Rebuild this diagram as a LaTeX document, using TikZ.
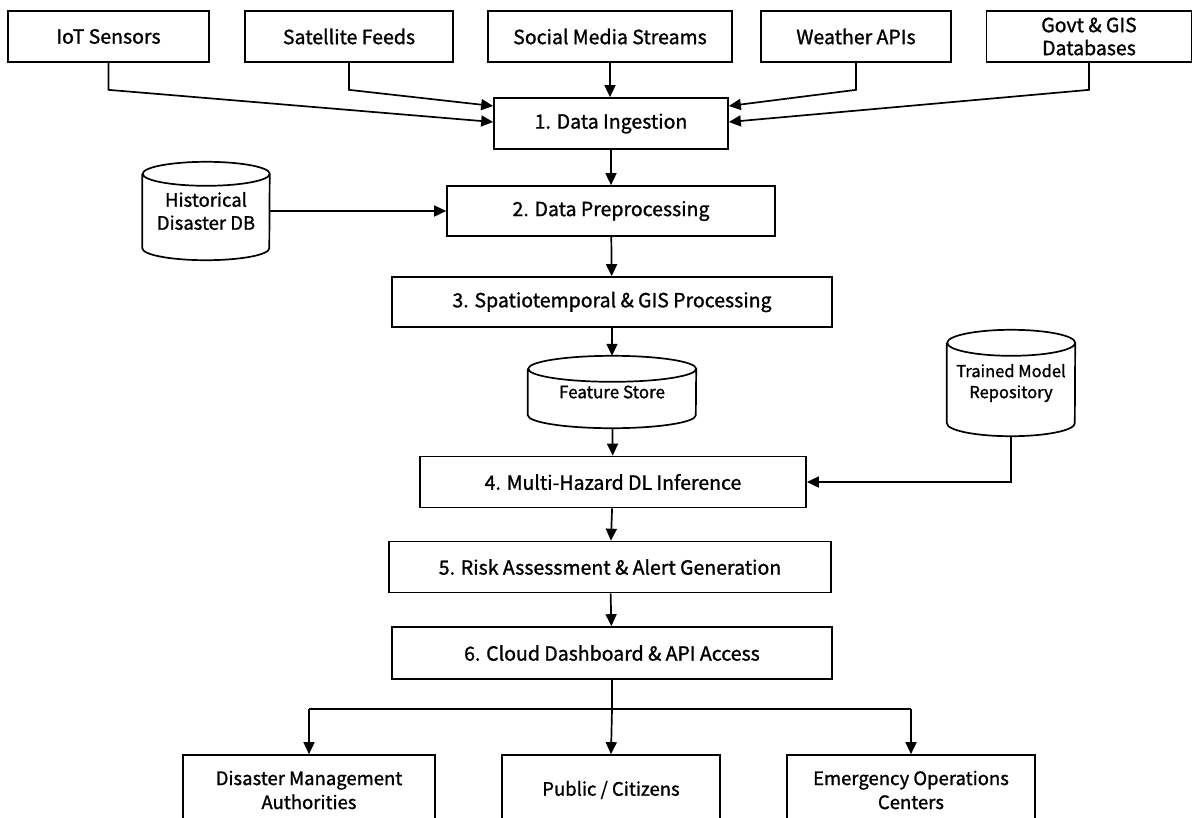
\documentclass[tikz,border=0pt]{standalone}
\usepackage{fontspec}
\setmainfont{Noto Sans CJK JP}[RawFeature={embolden=1.2}]
\usetikzlibrary{arrows.meta,positioning}
\tikzset{
  x=1pt, y=-1pt,
  stage/.style={draw, line width=1.7pt, align=center, font=\fontsize{19.5}{23}\selectfont, inner sep=0pt},
  dbnode/.style={align=center, inner sep=0pt},
  arr/.style={line width=1.7pt, -{Triangle[length=12pt,width=11pt]}},
  link/.style={line width=1.7pt},
}
% database cylinder drawn round a named node: name, half width, ellipse radius
\newcommand\dbcyl[3]{%
  \draw[line width=1.7pt] ([yshift=-#3]#1.north west) -- ([yshift=#3]#1.south west)
    arc[start angle=180,end angle=360,x radius=#2,y radius=#3]
    -- ([yshift=-#3]#1.north east)
    arc[start angle=0,end angle=360,x radius=#2,y radius=#3];}
\begin{document}
\begin{tikzpicture}
\useasboundingbox (0,0) rectangle (1193,817);
\fill[white] (0,0) rectangle (1193,817);

% data sources
\node[stage, minimum width=201, minimum height=51] (iot) at (108.5,36.5) {IoT Sensors};
\node[stage, minimum width=208, minimum height=51] (sat) at (349,36.5) {Satellite Feeds};
\node[stage, minimum width=244, minimum height=51] (soc) at (610,36.5) {Social Media Streams};
\node[stage, minimum width=190, minimum height=51] (wea) at (856,36.5) {Weather APIs};
\node[stage, minimum width=205, minimum height=51] (gov) at (1089,36.5) {Govt \& GIS\\Databases};

% pipeline stages
\node[stage, minimum width=234, minimum height=51] (ing) at (611,123.5) {1. Data Ingestion};
\node[stage, minimum width=328, minimum height=50] (pre) at (611,211) {2. Data Preprocessing};
\node[stage, minimum width=440, minimum height=50] (gis) at (612,302) {3. Spatiotemporal \& GIS Processing};
\node[stage, minimum width=386, minimum height=51] (inf) at (613,482) {4. Multi-Hazard DL Inference};
\node[stage, minimum width=442, minimum height=51] (risk) at (610,567) {5. Risk Assessment \& Alert Generation};
\node[stage, minimum width=440, minimum height=52] (dash) at (612,653) {6. Cloud Dashboard \& API Access};

% stores
\node[dbnode, minimum width=127, minimum height=98, font=\fontsize{18.5}{23}\selectfont] (hist) at (206,211) {Historical\\Disaster DB};
\dbcyl{hist}{63.5pt}{12pt}
\node[dbnode, minimum width=168, minimum height=72, font=\fontsize{17}{21}\selectfont] (feat) at (612,392) {Feature Store};
\dbcyl{feat}{84pt}{13pt}
\node[dbnode, minimum width=128, minimum height=106, font=\fontsize{16.5}{21}\selectfont] (tmr) at (1011,383) {Trained Model\\Repository};
\dbcyl{tmr}{64pt}{13pt}

% consumers
\node[stage, minimum width=252, minimum height=70, font=\fontsize{18.5}{24}\selectfont] (dma) at (309,790) {Disaster Management\\Authorities};
\node[stage, minimum width=218, minimum height=70, font=\fontsize{18.5}{24}\selectfont] (pub) at (611,790) {Public / Citizens};
\node[stage, minimum width=248, minimum height=70, font=\fontsize{18.5}{24}\selectfont] (eoc) at (911,790) {Emergency Operations\\Centers};

% source connectors
\draw[arr] (iot.south) -- ++(0,27) -- ([yshift=1.5pt]ing.west);
\draw[arr] (sat.south) -- ++(0,27) -- ([yshift=17.5pt]ing.west);
\draw[arr] (soc.south) -- (soc.south |- ing.north);
\draw[arr] (wea.south) -- ++(0,27) -- ([yshift=17.5pt]ing.east);
\draw[arr] (gov.south) -- ++(0,27) -- ([yshift=1.5pt]ing.east);

% main flow
\draw[arr] (ing) -- (pre);
\draw[arr] (hist.east) -- (pre.west);
\draw[arr] (pre) -- (gis);
\draw[arr] (gis) -- (feat);
\draw[arr] (feat) -- (inf);
\draw[arr] (tmr.south) |- (inf.east);
\draw[arr] (inf) -- (risk);
\draw[arr] (risk) -- (dash);

% distribution
\coordinate (fork) at ([yshift=-29pt]dash.south);
\draw[link] (dash.south) -- (fork);
\draw[link] (fork -| dma.north) -- (fork -| eoc.north);
\draw[arr] (fork -| dma.north) -- (dma.north);
\draw[arr] (fork) -- (pub.north);
\draw[arr] (fork -| eoc.north) -- (eoc.north);
\end{tikzpicture}
\end{document}
